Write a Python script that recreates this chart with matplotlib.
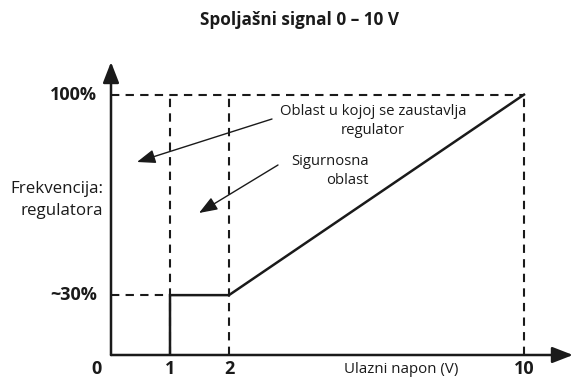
import numpy as np
import matplotlib
matplotlib.use('Agg')
import matplotlib.pyplot as plt

plt.rcParams['font.family'] = ['Open Sans', 'DejaVu Sans']

# Control characteristic: input voltage (V) vs regulator frequency (%)
napon = [1, 1, 2, 10]
frekvencija = [0, 30, 30, 100]

x_tick_vals = [0, 1, 2, 10]
x_tick_labels = ['0', '1', '2', '10']
y_tick_vals = [30, 100]
y_tick_labels = ['~30%', '100%']

# Piecewise axis scales (schematic, not to proportion)
x_knots = [0, 2, 10]
x_pos = [0, 2, 7]
y_knots = [0, 30, 100]
y_pos = [0, 23, 100]


def fwd(knots, pos):
    def f(v):
        v = np.asarray(v, dtype=float)
        slope = (pos[-1] - pos[-2]) / (knots[-1] - knots[-2])
        return np.where(v > knots[-1], pos[-1] + (v - knots[-1]) * slope, np.interp(v, knots, pos))
    return f


def inv(knots, pos):
    return fwd(pos, knots)


fig = plt.figure(figsize=(5.73, 3.82), dpi=100)
W, H = 573, 382
ax = fig.add_axes([111 / W, (H - 355) / H, (573 - 111) / W, (355 - 62) / H])
ax.set_xscale('function', functions=(fwd(x_knots, x_pos), inv(x_knots, x_pos)))
ax.set_yscale('function', functions=(fwd(y_knots, y_pos), inv(y_knots, y_pos)))
ax.set_xlim(0, 11.33)
ax.set_ylim(0, 111.4)
ax.axis('off')

ink = '#1a1a1a'

# axis arrows
arrow_kw = dict(arrowstyle='-|>,head_length=0.9,head_width=0.35', color=ink, lw=1.8,
                shrinkA=0, shrinkB=0, mutation_scale=14)
ax.annotate('', xy=(1, 0), xytext=(0, 0), xycoords='axes fraction', arrowprops=arrow_kw)
ax.annotate('', xy=(0, 1), xytext=(0, 0), xycoords='axes fraction', arrowprops=arrow_kw)

# dashed guides
dash = dict(color=ink, lw=1.5, ls=(0, (4, 3)))
ax.plot([0, 10], [100, 100], **dash)
ax.plot([0, 1], [30, 30], **dash)
for xv in [1, 2, 10]:
    ax.plot([xv, xv], [0, 100], **dash)

# characteristic
ax.plot(napon, frekvencija, color=ink, lw=1.8, solid_joinstyle='miter')

# tick labels
for xv, lab in zip(x_tick_vals, x_tick_labels):
    off = -15 if xv == 0 else 0
    ax.annotate(lab, xy=(xv, 0), xytext=(off, -14), textcoords='offset pixels',
                ha='center', va='center', fontsize=13, fontweight='bold', color=ink)
for yv, lab in zip(y_tick_vals, y_tick_labels):
    ax.annotate(lab, xy=(0, yv), xytext=(-14, 0), textcoords='offset pixels',
                ha='right', va='center', fontsize=13, fontweight='bold', color=ink)

ax.text(-0.017, 0.529, 'Frekvencija:\nregulatora', transform=ax.transAxes, ha='right', va='center',
        fontsize=12.2, color=ink, linespacing=1.45)
ax.text(0.629, -0.048, 'Ulazni napon (V)', transform=ax.transAxes, ha='center', va='center',
        fontsize=10.8, color=ink)

fig.text(299 / W, 1 - 20 / H, 'Spoljašni signal 0 – 10 V', ha='center', va='center',
         fontsize=12.3, fontweight='bold', color=ink)

# region annotations
ann_arrow = dict(arrowstyle='-|>,head_length=0.8,head_width=0.3', color=ink, lw=1,
                 shrinkA=0, shrinkB=0, mutation_scale=14)
fig.text(373 / W, 1 - 121 / H, 'Oblast u kojoj se zaustavlja\nregulator', ha='center', va='center',
         fontsize=10.7, color=ink, linespacing=1.4)
ax.annotate('', xy=(137 / W, 1 - 162 / H), xytext=(272 / W, 1 - 119 / H),
            xycoords='figure fraction', arrowprops=ann_arrow)
fig.text(369 / W, 1 - 171 / H, 'Sigurnosna\noblast', ha='right', va='center',
         fontsize=10.7, color=ink, linespacing=1.4)
ax.annotate('', xy=(199 / W, 1 - 213 / H), xytext=(278 / W, 1 - 165 / H),
            xycoords='figure fraction', arrowprops=ann_arrow)

fig.savefig('out.png', dpi=100, facecolor='white')
